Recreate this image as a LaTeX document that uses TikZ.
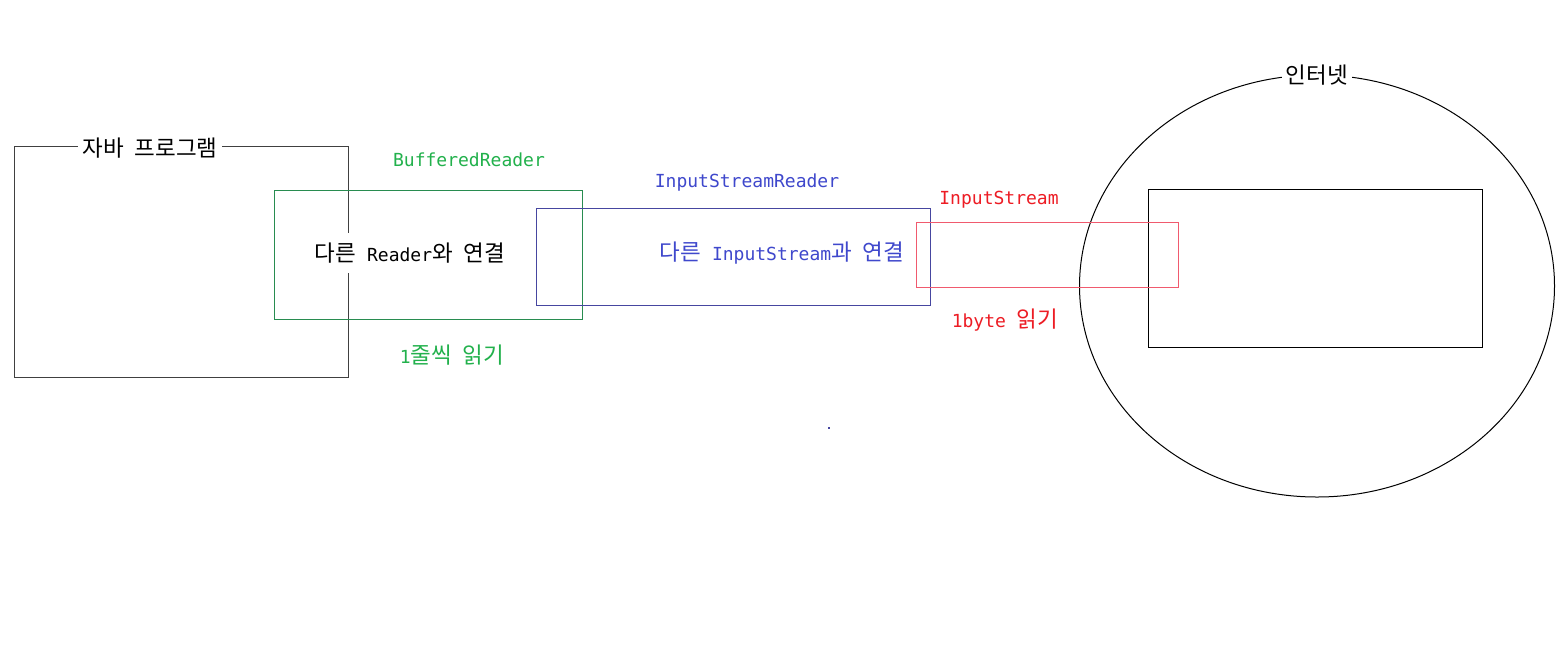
\documentclass[tikz,border=0pt]{standalone}
\usepackage{fontspec}
\setmainfont{DejaVu Sans Mono}
\newfontfamily\krf[Scale=1.25]{Noto Sans CJK KR}
\newcommand\K[1]{{\krf #1}}
\usetikzlibrary{fit,shapes.geometric}
\definecolor{grtxt}{RGB}{34,177,76}
\definecolor{grbox}{RGB}{40,140,80}
\definecolor{bltxt}{RGB}{63,72,204}
\definecolor{blbox}{RGB}{70,70,160}
\definecolor{rdtxt}{RGB}{237,28,36}
\definecolor{rdbox}{RGB}{240,90,110}
\tikzset{
  box/.style={draw, inner sep=0pt, line width=0.75pt},
  lbl/.style={inner sep=0pt, font=\fontsize{13.5}{16}\selectfont},
  title/.style={lbl, fill=white, inner xsep=3pt, inner ysep=2pt},
}
\begin{document}
\begin{tikzpicture}[x=0.75pt, y=-0.75pt]
\useasboundingbox[fill=white] (0,0) rectangle (1562,664);
% Java program frame
\node[box, draw=black!75, fit={(14,146) (348,377)}] (java) {};
\node[title] (javat) at (150,148) {\K{자바} \K{프로그램}};
% BufferedReader
\node[box, draw=grbox, fit={(274,190) (582,319)}] (buf) {};
\node[lbl, text=grtxt] (buft) at (469,160) {BufferedReader};
\node[lbl, fill=white, inner xsep=2pt, inner ysep=7pt] (bufc) at (410,253) {\K{다른} Reader\K{와} \K{연결}};
\node[lbl, text=grtxt] (bufr) at (452,355) {1\K{줄씩} \K{읽기}};
% InputStreamReader
\node[box, draw=blbox, fit={(536,208) (930,305)}] (isr) {};
\node[lbl, text=bltxt] (isrt) at (747,183) {InputStreamReader};
\node[lbl, text=bltxt] (isrc) at (782,253) {\K{다른} InputStream\K{과} \K{연결}};
% Internet
\node[draw, ellipse, inner sep=0pt, line width=0.75pt, minimum width=356.25pt, minimum height=316.5pt] (net) at (1317,286) {};
\node[box, draw=black, fit={(1148,189) (1482,347)}] (srv) {};
% InputStream
\node[box, draw=rdbox, fit={(916,222) (1178,287)}] (is) {};
\node[lbl, text=rdtxt] (ist) at (999,200) {InputStream};
\node[lbl, text=rdtxt] (isr1) at (1005,320) {1byte \K{읽기}};
\node[title] (nett) at (1317,75) {\K{인터넷}};
% stray dot
\fill[blbox] (828,427) rectangle (830,429);
\end{tikzpicture}
\end{document}
